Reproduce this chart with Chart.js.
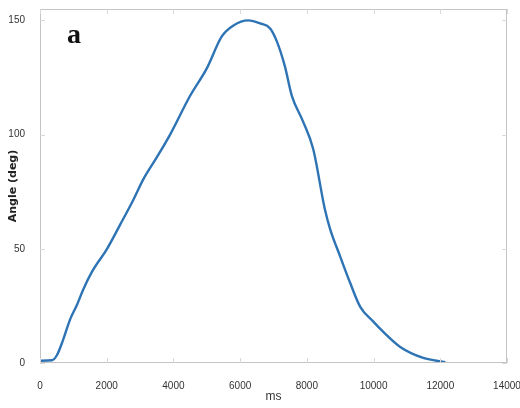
<!DOCTYPE html>
<html>
<head>
<meta charset="utf-8">
<script src="https://cdn.jsdelivr.net/npm/chart.js@4.4.0/dist/chart.umd.min.js"></script>
<style>
  html, body { margin: 0; padding: 0; background: #fff; }
  #wrap { width: 520px; height: 408px; position: relative; }
</style>
</head>
<body>
<div id="wrap"><canvas id="angleChart"></canvas></div>
<script>
// time (ms) and joint angle (deg)
const timeMs = [0, 360, 510, 690, 900, 1110, 1290, 1560, 2010, 2400, 2800, 3100, 3500, 3900, 4500, 5000, 5450, 5800, 6240, 6600, 6900, 7100, 7340, 7550, 7890, 8190, 8540, 8700, 9000, 9300, 9600, 10000, 10300, 10800, 11490, 12150];
const angleDeg = [1, 1.2, 3.5, 10, 19, 25.5, 32, 40, 50, 60.5, 71.5, 80.5, 90, 100, 117, 129, 143, 147.8, 150, 148.7, 146.5, 140.8, 130, 117, 105.6, 93.7, 67.3, 58.5, 46.6, 35, 24.6, 18, 13.5, 7, 2.2, 0.4];
const xTicks = [0, 2000, 4000, 6000, 8000, 10000, 12000, 14000];
const yTicks = [0, 50, 100, 150];
const panelLabel = "a";

const points = timeMs.map((t, i) => ({ x: t, y: angleDeg[i] }));
const tickFont = "'Liberation Sans', Arial, sans-serif";

// box around the axes plus matlab style inward ticks
const framePlugin = {
  id: "frame",
  afterDraw(chart) {
    const ctx = chart.ctx;
    const a = chart.chartArea;
    const xs = chart.scales.x, ys = chart.scales.y;
    ctx.save();
    ctx.strokeStyle = "#c4c4c4";
    ctx.lineWidth = 1;
    ctx.strokeRect(a.left + 0.5, a.top + 0.5, a.right - a.left - 1, a.bottom - a.top - 1);
    ctx.strokeStyle = "#d8d8d8";
    xTicks.forEach(v => {
      const px = Math.round(xs.getPixelForValue(v)) + 0.5;
      ctx.beginPath();
      ctx.moveTo(px, a.bottom); ctx.lineTo(px, a.bottom - 5);
      ctx.moveTo(px, a.top); ctx.lineTo(px, a.top + 5);
      ctx.stroke();
    });
    yTicks.forEach(v => {
      const py = Math.round(ys.getPixelForValue(v)) + 0.5;
      ctx.beginPath();
      ctx.moveTo(a.left, py); ctx.lineTo(a.left + 5, py);
      ctx.moveTo(a.right, py); ctx.lineTo(a.right - 5, py);
      ctx.stroke();
    });
    ctx.fillStyle = "#111";
    ctx.font = "bold 28px 'Liberation Serif', 'DejaVu Serif', serif";
    ctx.textAlign = "left";
    ctx.textBaseline = "alphabetic";
    ctx.fillText(panelLabel, a.left + 27, a.top + 34);
    ctx.restore();
  }
};

new Chart(document.getElementById("angleChart"), {
  type: "line",
  data: {
    datasets: [{
      data: points,
      borderColor: "#2e74b5",
      borderWidth: 2.4,
      pointRadius: 0,
      fill: false,
      cubicInterpolationMode: "monotone"
    }]
  },
  options: {
    responsive: true,
    maintainAspectRatio: false,
    animation: false,
    layout: { padding: { left: 0, right: 13, top: 9, bottom: 0 } },
    plugins: { legend: { display: false }, tooltip: { enabled: false } },
    scales: {
      x: {
        type: "linear",
        min: 0,
        max: 14000,
        afterBuildTicks: s => { s.ticks = xTicks.map(v => ({ value: v })); },
        afterFit: s => { s.height = 45; s.paddingLeft = 0; s.paddingRight = 0; },
        grid: { display: false },
        border: { display: false },
        ticks: { color: "#333", padding: 9, maxRotation: 0, callback: v => String(v), font: { size: 10, family: tickFont } },
        title: { display: true, text: "ms", color: "#333", padding: { top: 0, bottom: 4 }, font: { size: 12, family: tickFont } }
      },
      y: {
        min: 0,
        max: 155,
        afterBuildTicks: s => { s.ticks = yTicks.map(v => ({ value: v })); },
        afterFit: s => { s.width = 40; s.paddingTop = 0; s.paddingBottom = 0; },
        grid: { display: false },
        border: { display: false },
        ticks: { color: "#333", padding: 7, font: { size: 10, family: tickFont } },
        title: { display: true, text: "Angle (deg)", color: "#222", padding: { top: 7, bottom: 0 }, font: { size: 11, weight: "bold", family: "'DejaVu Sans', Verdana, sans-serif" } }
      }
    }
  },
  plugins: [framePlugin]
});
</script>
</body>
</html>
